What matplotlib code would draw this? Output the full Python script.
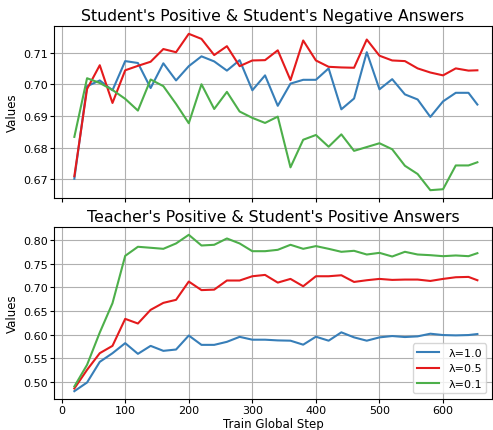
import matplotlib
matplotlib.use("Agg")
import matplotlib.pyplot as plt
from matplotlib.ticker import MultipleLocator

steps = [20, 40, 60, 80, 100, 120, 140, 160, 180, 200, 220, 240, 260, 280, 300,
         320, 340, 360, 380, 400, 420, 440, 460, 480, 500, 520, 540, 560, 580,
         600, 620, 640, 654]

labels = ["λ=1.0", "λ=0.5", "λ=0.1"]
colors = ["#377eb8", "#e41a1c", "#4daf4a"]

# Student's Positive & Student's Negative Answers
top_l10 = [0.6702, 0.6994, 0.7012, 0.6981, 0.7073, 0.7067, 0.6988, 0.7066, 0.7012,
           0.7057, 0.7088, 0.7072, 0.7043, 0.7076, 0.6981, 0.7028, 0.6932, 0.7002,
           0.7014, 0.7014, 0.7050, 0.6921, 0.6955, 0.7101, 0.6984, 0.7016, 0.6968,
           0.6952, 0.6897, 0.6946, 0.6973, 0.6973, 0.6936]
top_l05 = [0.6710, 0.6985, 0.7060, 0.6941, 0.7044, 0.7058, 0.7071, 0.7111, 0.7101,
           0.7159, 0.7143, 0.7092, 0.7120, 0.7057, 0.7075, 0.7076, 0.7107, 0.7013,
           0.7138, 0.7075, 0.7055, 0.7053, 0.7052, 0.7141, 0.7090, 0.7075, 0.7073,
           0.7050, 0.7037, 0.7028, 0.7050, 0.7043, 0.7044]
top_l01 = [0.6834, 0.7019, 0.7004, 0.6982, 0.6954, 0.6917, 0.7015, 0.6994, 0.6938,
           0.6877, 0.7000, 0.6922, 0.6976, 0.6914, 0.6894, 0.6878, 0.6898, 0.6738,
           0.6825, 0.6840, 0.6803, 0.6842, 0.6790, 0.6802, 0.6814, 0.6795, 0.6743,
           0.6717, 0.6666, 0.6669, 0.6744, 0.6744, 0.6754]

# Teacher's Positive & Student's Positive Answers
bot_l10 = [0.4810, 0.4993, 0.5428, 0.5610, 0.5822, 0.5597, 0.5765, 0.5660, 0.5688,
           0.5983, 0.5786, 0.5786, 0.5850, 0.5955, 0.5895, 0.5895, 0.5880, 0.5874,
           0.5790, 0.5958, 0.5874, 0.6050, 0.5944, 0.5874, 0.5944, 0.5972, 0.5951,
           0.5965, 0.6021, 0.5993, 0.5986, 0.5993, 0.6014]
bot_l05 = [0.4867, 0.5260, 0.5611, 0.5765, 0.6334, 0.6236, 0.6524, 0.6671, 0.6735,
           0.7120, 0.6940, 0.6950, 0.7142, 0.7142, 0.7232, 0.7260, 0.7098, 0.7176,
           0.7021, 0.7232, 0.7232, 0.7253, 0.7112, 0.7148, 0.7176, 0.7155, 0.7162,
           0.7162, 0.7133, 0.7176, 0.7211, 0.7218, 0.7148]
bot_l01 = [0.4909, 0.5365, 0.6046, 0.6664, 0.7662, 0.7853, 0.7832, 0.7810, 0.7923,
           0.8105, 0.7880, 0.7895, 0.8028, 0.7923, 0.7760, 0.7760, 0.7789, 0.7895,
           0.7810, 0.7867, 0.7810, 0.7747, 0.7768, 0.7690, 0.7725, 0.7648, 0.7747,
           0.7690, 0.7676, 0.7655, 0.7670, 0.7655, 0.7718]

titles = ["Student's Positive & Student's Negative Answers",
          "Teacher's Positive & Student's Positive Answers"]

fig = plt.figure(figsize=(4.93, 4.31), dpi=100)
ax1 = fig.add_axes([54/493, 1-199/431, 438/493, 172/431])
ax2 = fig.add_axes([54/493, 1-400/431, 438/493, 172/431], sharex=ax1)

for ax, series, title in [(ax1, [top_l10, top_l05, top_l01], titles[0]),
                          (ax2, [bot_l10, bot_l05, bot_l01], titles[1])]:
    for vals, lab, col in zip(series, labels, colors):
        ax.plot(steps, vals, color=col, lw=1.5, label=lab)
    ax.set_title(title, fontsize=11.3, pad=4)
    ax.set_ylabel("Values", fontsize=8.5, labelpad=3)
    ax.grid(True, color="#b0b0b0", lw=0.8)
    ax.tick_params(labelsize=8, pad=1.8, length=2.8)

ax1.yaxis.set_major_locator(MultipleLocator(0.01))
ax2.yaxis.set_major_locator(MultipleLocator(0.05))
ax1.set_xlim(-12, 677)
ax1.tick_params(labelbottom=False)
ax2.set_xlabel("Train Global Step", fontsize=8.5)
ax2.xaxis.set_label_coords(0.5, -0.14)
ax2.xaxis.label.set_verticalalignment("center")
ax2.legend(loc="lower right", fontsize=8)

fig.savefig("out.png", dpi=100)
